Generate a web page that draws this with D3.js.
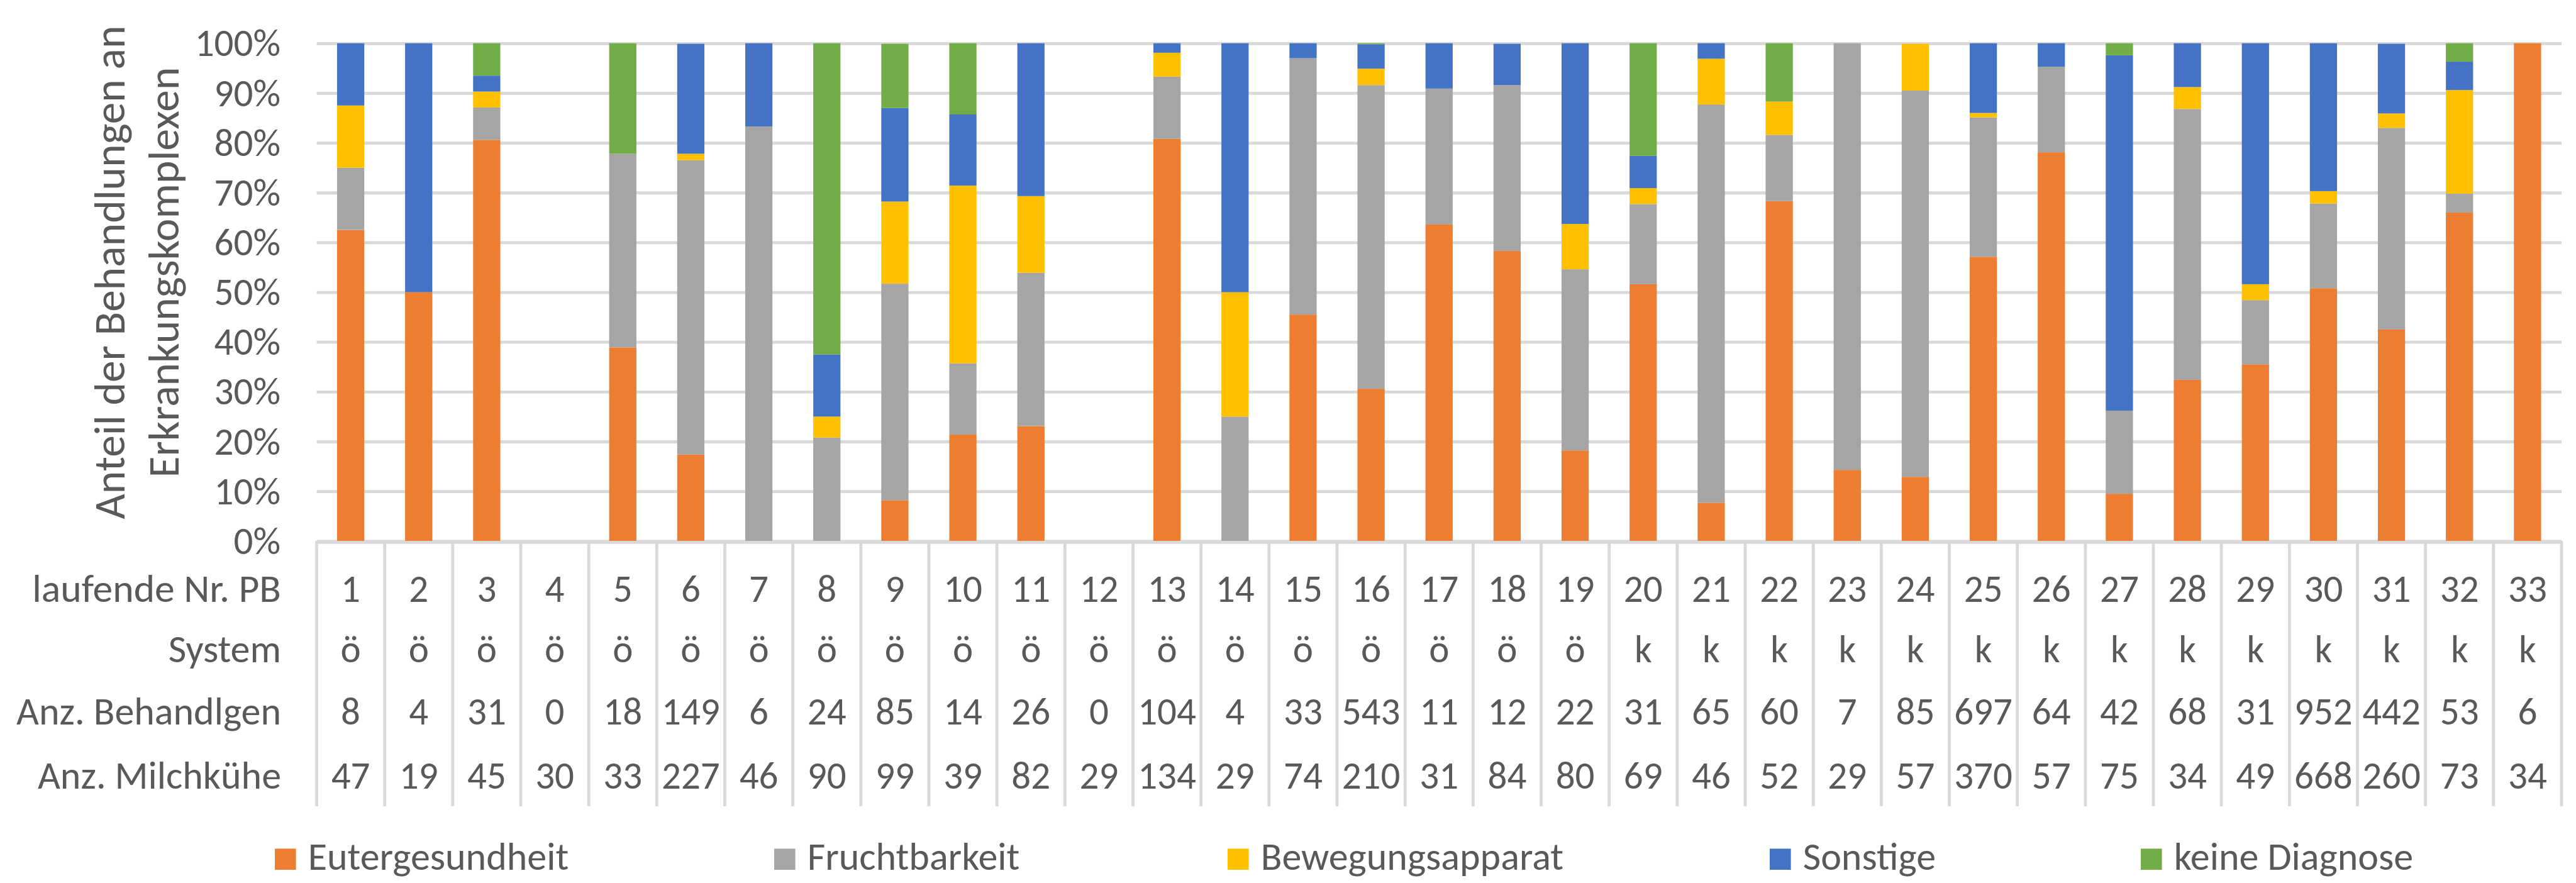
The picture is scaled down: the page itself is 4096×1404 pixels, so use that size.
<!DOCTYPE html>
<html lang="de">
<head>
<meta charset="utf-8">
<title>Anteil der Behandlungen an Erkrankungskomplexen</title>
<script src="https://cdn.jsdelivr.net/npm/d3@7"></script>
<style>
    body { margin: 0; background: #ffffff; }
    svg text { font-family: Carlito, "Liberation Sans Narrow", "Liberation Sans", sans-serif; fill: #595959; }
</style>
</head>
<body>
<div id="chart"></div>
<script type="text/javascript">
    var w = 4096;
    var h = 1404;

    // data table below the bars
    var pbNr = ["1", "2", "3", "4", "5", "6", "7", "8", "9", "10", "11", "12", "13", "14", "15", "16", "17",
        "18", "19", "20", "21", "22", "23", "24", "25", "26", "27", "28", "29", "30", "31", "32", "33"];
    var system = ["ö", "ö", "ö", "ö", "ö", "ö", "ö", "ö", "ö", "ö", "ö", "ö", "ö", "ö", "ö", "ö", "ö", "ö", "ö",
        "k", "k", "k", "k", "k", "k", "k", "k", "k", "k", "k", "k", "k", "k"];
    var behandlungen = [8, 4, 31, 0, 18, 149, 6, 24, 85, 14, 26, 0, 104, 4, 33, 543, 11, 12, 22, 31, 65, 60, 7, 85,
        697, 64, 42, 68, 31, 952, 442, 53, 6];
    var milchkuehe = [47, 19, 45, 30, 33, 227, 46, 90, 99, 39, 82, 29, 134, 29, 74, 210, 31, 84, 80, 69, 46, 52, 29,
        57, 370, 57, 75, 34, 49, 668, 260, 73, 34];
    var rowLabels = ["laufende Nr. PB", "System", "Anz. Behandlgen", "Anz. Milchkühe"];

    // share of treatments per complex, percent
    var seriesNames = ["Eutergesundheit", "Fruchtbarkeit", "Bewegungsapparat", "Sonstige", "keine Diagnose"];
    var euter = [62.5, 50, 80.6, 0, 38.9, 17.4, 0, 0, 8.2, 21.4, 23.1, 0, 80.8, 0, 45.5, 30.6, 63.6, 58.3, 18.2,
        51.6, 7.7, 68.3, 14.3, 12.9, 57.1, 78.1, 9.5, 32.4, 35.5, 50.8, 42.5, 66.0, 100];
    var frucht = [12.5, 0, 6.5, 0, 38.9, 59.1, 83.3, 20.8, 43.5, 14.3, 30.8, 0, 12.5, 25, 51.5, 61.0, 27.3, 33.3,
        36.4, 16.1, 80.0, 13.3, 85.7, 77.6, 28.0, 17.2, 16.7, 54.4, 12.9, 17.0, 40.5, 3.8, 0];
    var beweg = [12.5, 0, 3.2, 0, 0, 1.3, 0, 4.2, 16.5, 35.7, 15.4, 0, 4.8, 25, 0, 3.3, 0, 0, 9.1, 3.2, 9.2, 6.7,
        0, 9.4, 0.9, 0, 0, 4.4, 3.2, 2.5, 2.9, 20.8, 0];
    var sonstige = [12.5, 50, 3.2, 0, 0, 22.1, 16.7, 12.5, 18.8, 14.3, 30.8, 0, 1.9, 50, 3.0, 4.9, 9.1, 8.3, 36.4,
        6.5, 3.1, 0, 0, 0, 14.0, 4.7, 71.4, 8.8, 48.4, 29.7, 14.0, 5.7, 0];
    var keine = [0, 0, 6.5, 0, 22.2, 0, 0, 62.5, 12.9, 14.3, 0, 0, 0, 0, 0, 0.2, 0, 0, 0, 22.6, 0, 11.7, 0, 0, 0,
        0, 2.4, 0, 0, 0, 0, 3.8, 0];
    var yTicks = [0, 10, 20, 30, 40, 50, 60, 70, 80, 90, 100];
    var colors = ["#ED7D31", "#A5A5A5", "#FFC000", "#4472C4", "#70AD47"];

    // layout (measured on the reference, already scaled by 0.764)
    var plotLeft = 503.5;
    var plotRight = 4073;
    var plotTop = 68.8;
    var plotBottom = 860.3;
    var tableBottom = 1282;
    var rowBaselines = [956.5, 1052.8, 1152.1, 1253.7];
    var labelRight = 447;
    var lineColor = "#D9D9D9";
    var lineWidth = 4.8;

    // text widths in the reference (Calibri), used when the local font runs wider/narrower
    var rowLabelWidths = [395.8, 182.8, 421.8, 388];
    var legendWidths = [418.7, 341.5, 482, 212.4, 380.5];
    var titleWidths = [787.7, 661];

    function fitWidth(sel, widths) {
        sel.each(function (d, i) {
            var m = this.getComputedTextLength();
            if (Math.abs(m - widths[i]) / widths[i] > 0.02) {
                d3.select(this)
                    .attr("textLength", widths[i])
                    .attr("lengthAdjust", "spacingAndGlyphs");
            }
        });
    }

    var table = pbNr.map(function (d, i) {
        return {
            nr: d,
            "Eutergesundheit": euter[i],
            "Fruchtbarkeit": frucht[i],
            "Bewegungsapparat": beweg[i],
            "Sonstige": sonstige[i],
            "keine Diagnose": keine[i]
        };
    });
    var stacked = d3.stack().keys(seriesNames)(table);

    var xScale = d3.scaleBand()
        .domain(pbNr)
        .range([plotLeft, plotRight])
        .padding(0);
    var barWidth = xScale.bandwidth() * 0.4;   // Excel gap width 150%

    var yScale = d3.scaleLinear()
        .domain([0, 100])
        .range([plotBottom, plotTop])
        .clamp(true);

    var svg = d3.select("#chart")
        .append("svg")
        .attr("width", w)
        .attr("height", h);

    // gridlines + percent labels
    var yAxis = d3.axisLeft(yScale)
        .tickValues(yTicks)
        .tickSize(-(plotRight - plotLeft))
        .tickPadding(plotLeft - 446)
        .tickFormat(function (d) { return d + "%"; });

    var gy = svg.append("g")
        .attr("transform", "translate(" + plotLeft + ",0)")
        .call(yAxis);
    gy.select(".domain").remove();
    gy.selectAll(".tick line")
        .attr("stroke", lineColor)
        .attr("stroke-width", lineWidth);
    gy.selectAll(".tick text")
        .attr("fill", "#595959")
        .attr("dy", "0.33em")
        .style("font-size", "61px");

    // stacked bars
    svg.append("g")
        .selectAll("g")
        .data(stacked)
        .enter()
        .append("g")
        .attr("fill", function (d, i) { return colors[i]; })
        .selectAll("rect")
        .data(function (d) { return d; })
        .enter()
        .append("rect")
        .attr("x", function (d) { return xScale(d.data.nr) + (xScale.bandwidth() - barWidth) / 2; })
        .attr("y", function (d) { return yScale(d[1]); })
        .attr("width", barWidth)
        .attr("height", function (d) { return Math.max(0, yScale(d[0]) - yScale(d[1])); });

    // axis line / top of the data table
    svg.append("line")
        .attr("x1", plotLeft)
        .attr("x2", plotRight)
        .attr("y1", yScale(0) + 2)
        .attr("y2", yScale(0) + 2)
        .attr("stroke", lineColor)
        .attr("stroke-width", lineWidth);

    // column separators of the data table
    var edges = pbNr.map(function (d) { return xScale(d); }).concat([plotRight]);
    svg.append("g")
        .selectAll("line")
        .data(edges)
        .enter()
        .append("line")
        .attr("x1", function (d) { return d; })
        .attr("x2", function (d) { return d; })
        .attr("y1", yScale(0))
        .attr("y2", tableBottom)
        .attr("stroke", lineColor)
        .attr("stroke-width", lineWidth);

    // row labels
    svg.append("g")
        .selectAll("text")
        .data(rowLabels)
        .enter()
        .append("text")
        .attr("x", labelRight)
        .attr("y", function (d, i) { return rowBaselines[i]; })
        .attr("text-anchor", "end")
        .style("font-size", "62px")
        .text(function (d) { return d; })
        .call(fitWidth, rowLabelWidths);

    // cell values
    var rows = [pbNr, system, behandlungen, milchkuehe];
    rows.forEach(function (row, r) {
        svg.append("g")
            .selectAll("text")
            .data(row)
            .enter()
            .append("text")
            .attr("x", function (d, i) { return xScale(pbNr[i]) + xScale.bandwidth() / 2; })
            .attr("y", rowBaselines[r])
            .attr("text-anchor", "middle")
            .style("font-size", "61px")
            .text(function (d) { return d; });
    });

    // y axis title, two lines
    var titleLines = ["Anteil der Behandlungen an", "Erkrankungskomplexen"];
    var titleX = [198, 283.5];
    svg.append("g")
        .selectAll("text")
        .data(titleLines)
        .enter()
        .append("text")
        .attr("text-anchor", "middle")
        .attr("transform", function (d, i) { return "translate(" + titleX[i] + ",433)rotate(-90)"; })
        .style("font-size", "69.5px")
        .text(function (d) { return d; })
        .call(fitWidth, titleWidths);

    // legend (lifted a little so the descenders stay inside the picture)
    var legendX = [437, 1231, 1952, 2814, 3404];
    var legendBase = 1383;
    var sw = 33.6;
    var legend = svg.append("g")
        .selectAll("g")
        .data(seriesNames)
        .enter()
        .append("g")
        .attr("transform", function (d, i) { return "translate(" + legendX[i] + "," + legendBase + ")"; });
    legend.append("rect")
        .attr("x", 0)
        .attr("y", -sw)
        .attr("width", sw)
        .attr("height", sw)
        .attr("fill", function (d, i) { return colors[i]; });
    legend.append("text")
        .attr("x", 52.7)
        .attr("y", 0)
        .style("font-size", "62px")
        .text(function (d) { return d; })
        .call(fitWidth, legendWidths);
</script>
</body>
</html>
